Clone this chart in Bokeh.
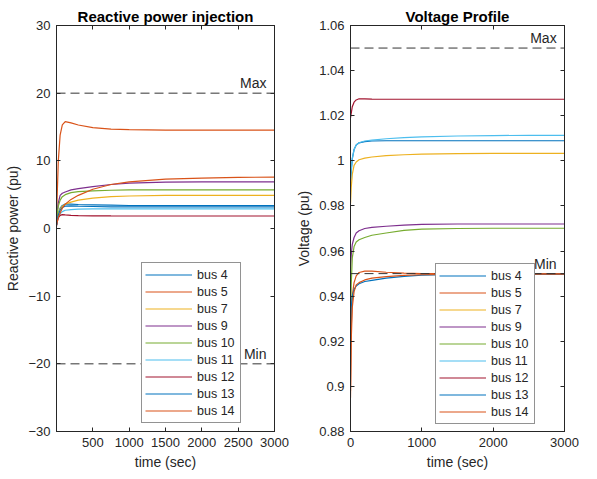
from bokeh.plotting import figure
from bokeh.layouts import row
from bokeh.models import (Range1d, LinearAxis, FixedTicker, Span, Legend, LegendItem,
                          CustomJSTickFormatter)
from bokeh.core.properties import value
from bokeh.embed import file_html
from bokeh.resources import INLINE

# ---------------- data ----------------
t = [0, 10, 25, 50, 80, 120, 200, 300, 500, 750, 1000, 1500, 2000, 2500, 3000]
buses = ["bus 4", "bus 5", "bus 7", "bus 9", "bus 10", "bus 11", "bus 12", "bus 13", "bus 14"]
colors = ["#0072BD", "#D95319", "#EDB120", "#7E2F8E", "#77AC30",
          "#4DBEEE", "#A2142F", "#0072BD", "#D95319"]

q_bus4  = [0.5, 1.4, 2.3, 3.0, 3.4, 3.6, 3.6, 3.55, 3.5, 3.45, 3.4, 3.4, 3.4, 3.4, 3.4]
q_bus5  = [1.5, 5.0, 10.0, 13.8, 15.3, 15.8, 15.6, 15.3, 14.9, 14.7, 14.6, 14.55, 14.55, 14.55, 14.55]
q_bus7  = [0.8, 1.5, 2.2, 2.9, 3.3, 3.6, 3.9, 4.2, 4.5, 4.7, 4.8, 4.9, 4.9, 4.9, 4.9]
q_bus9  = [1.0, 2.5, 3.8, 4.9, 5.2, 5.4, 5.7, 5.9, 6.2, 6.5, 6.7, 6.85, 6.9, 6.9, 6.9]
q_bus10 = [1.0, 2.2, 3.3, 4.2, 4.7, 5.0, 5.3, 5.45, 5.55, 5.65, 5.7, 5.7, 5.7, 5.7, 5.7]
q_bus11 = [0.5, 1.1, 1.7, 2.2, 2.5, 2.7, 2.8, 2.85, 2.9, 2.9, 2.9, 2.9, 2.9, 2.9, 2.9]
q_bus12 = [0.3, 1.0, 1.6, 1.95, 2.05, 2.0, 1.95, 1.9, 1.88, 1.86, 1.85, 1.85, 1.85, 1.85, 1.85]
q_bus13 = [0.5, 1.2, 2.0, 2.7, 3.1, 3.3, 3.35, 3.3, 3.25, 3.2, 3.2, 3.2, 3.2, 3.2, 3.2]
q_bus14 = [0.5, 1.0, 1.6, 2.3, 3.0, 3.6, 4.3, 4.9, 5.8, 6.5, 6.9, 7.3, 7.45, 7.55, 7.6]

v_bus4  = [0.990, 0.995, 1.001, 1.005, 1.007, 1.008, 1.0085, 1.0088, 1.0089, 1.0089, 1.0089, 1.0089, 1.0089, 1.0089, 1.0089]
v_bus5  = [0.898, 0.925, 0.940, 0.946, 0.949, 0.9505, 0.9511, 0.9511, 0.9506, 0.9502, 0.9500, 0.9500, 0.9500, 0.9500, 0.9500]
v_bus7  = [0.981, 0.988, 0.994, 0.998, 0.9995, 1.0005, 1.0012, 1.0017, 1.0023, 1.0027, 1.0030, 1.0032, 1.0033, 1.0033, 1.0033]
v_bus9  = [0.952, 0.958, 0.963, 0.966, 0.968, 0.969, 0.970, 0.9705, 0.971, 0.9715, 0.9718, 0.972, 0.972, 0.972, 0.972]
v_bus10 = [0.925, 0.945, 0.957, 0.962, 0.964, 0.965, 0.966, 0.967, 0.968, 0.9692, 0.9697, 0.9700, 0.9701, 0.9701, 0.9701]
v_bus11 = [0.992, 0.996, 1.001, 1.005, 1.007, 1.008, 1.0088, 1.0092, 1.0098, 1.0103, 1.0106, 1.0110, 1.0112, 1.0113, 1.0113]
v_bus12 = [1.019, 1.021, 1.024, 1.026, 1.027, 1.0275, 1.0275, 1.0274, 1.0273, 1.0273, 1.0273, 1.0273, 1.0273, 1.0273, 1.0273]
v_bus13 = [0.920, 0.935, 0.940, 0.943, 0.9445, 0.9455, 0.9465, 0.947, 0.948, 0.9488, 0.9493, 0.9496, 0.9497, 0.9497, 0.9497]
v_bus14 = [0.895, 0.920, 0.935, 0.942, 0.945, 0.946, 0.9472, 0.948, 0.9487, 0.9492, 0.9495, 0.9497, 0.9498, 0.9498, 0.9498]

q_series = [q_bus4, q_bus5, q_bus7, q_bus9, q_bus10, q_bus11, q_bus12, q_bus13, q_bus14]
v_series = [v_bus4, v_bus5, v_bus7, v_bus9, v_bus10, v_bus11, v_bus12, v_bus13, v_bus14]

q_max, q_min = 20, -20
v_max, v_min = 1.05, 0.95

q_xticks = [500, 1000, 1500, 2000, 2500, 3000]
v_xticks = [0, 1000, 2000, 3000]
q_yticks = [-30, -20, -10, 0, 10, 20, 30]
v_yticks = [0.88, 0.9, 0.92, 0.94, 0.96, 0.98, 1.0, 1.02, 1.04, 1.06]
v_ytick_labels = ["0.88", "0.9", "0.92", "0.94", "0.96", "0.98", "1", "1.02", "1.04", "1.06"]

FONT = "Liberation Sans"
TXT = "#262626"


def style_axis(ax, ticks, show_labels=True):
    ax.ticker = FixedTicker(ticks=ticks)
    ax.axis_line_color = TXT
    ax.major_tick_line_color = TXT
    ax.major_tick_in = 4
    ax.major_tick_out = 0
    ax.minor_tick_line_color = None
    ax.major_label_text_font = FONT
    ax.major_label_text_color = TXT
    ax.major_label_text_font_size = "13px"
    ax.axis_label_text_font = FONT
    ax.axis_label_text_color = TXT
    ax.axis_label_text_font_style = "normal"
    ax.axis_label_text_font_size = "14px"
    if show_labels:
        ax.major_label_standoff = 6
        ax.axis_label_standoff = 4
    else:
        ax.formatter = CustomJSTickFormatter(code="return ''")
        ax.major_label_standoff = 0


def make_panel(title, y0, y1, series, xticks, yticks, ylabel, lo, hi,
               width, left, right, legend_xy, ylabel_overrides=None):
    p = figure(width=width, height=476, output_backend="svg", toolbar_location=None,
               x_range=Range1d(0, 3000), y_range=Range1d(y0, y1),
               min_border_left=left, min_border_right=right,
               min_border_top=25, min_border_bottom=45,
               background_fill_color="white", border_fill_color="white")
    p.title.text = title
    p.title.align = "center"
    p.title.text_font = FONT
    p.title.text_font_size = "15px"
    p.title.text_font_style = "bold"
    p.title.text_color = "black"
    p.title.standoff = 2
    p.xgrid.visible = False
    p.ygrid.visible = False
    p.outline_line_color = TXT

    style_axis(p.xaxis[0], xticks)
    style_axis(p.yaxis[0], yticks)
    p.xaxis[0].axis_label = "time (sec)"
    p.yaxis[0].axis_label = ylabel
    if ylabel_overrides is not None:
        p.yaxis[0].major_label_overrides = ylabel_overrides

    top = LinearAxis()
    style_axis(top, xticks, show_labels=False)
    p.add_layout(top, "above")
    rgt = LinearAxis()
    style_axis(rgt, yticks, show_labels=False)
    p.add_layout(rgt, "right")

    for loc in (hi, lo):
        p.add_layout(Span(location=loc, dimension="width", line_color="#333333",
                          line_width=1, line_dash="9 5"))

    p.text(x=[2890, 2890], y=[hi, lo], text=["Max", "Min"], text_align="right",
           text_baseline="bottom", y_offset=-2, text_font=value(FONT),
           text_font_size="14px", text_color=TXT)

    items = []
    for name, col, ys in zip(buses, colors, series):
        r = p.line(t, ys, line_color=col, line_width=1.2)
        items.append(LegendItem(label=name, renderers=[r]))

    leg = Legend(items=items, location=legend_xy)
    leg.label_text_font = FONT
    leg.label_text_font_size = "12.5px"
    leg.label_text_color = TXT
    leg.glyph_width = 47
    leg.glyph_height = 17
    leg.label_height = 17
    leg.label_width = 40
    leg.label_standoff = 5
    leg.spacing = 0
    leg.padding = 3
    leg.margin = 0
    leg.border_line_color = TXT
    leg.border_line_width = 1
    leg.background_fill_color = "white"
    leg.background_fill_alpha = 1
    p.add_layout(leg)
    return p


p1 = make_panel("Reactive power injection", -30, 30, q_series, q_xticks, q_yticks,
                "Reactive power (pu)", q_min, q_max, width=293, left=56, right=19,
                legend_xy=(85, 8))
v_over = dict(zip(v_yticks, v_ytick_labels))
p2 = make_panel("Voltage Profile", 0.88, 1.06, v_series, v_xticks, v_yticks,
                "Voltage (pu)", v_min, v_max, width=294, left=52, right=23,
                legend_xy=(85, 7), ylabel_overrides=v_over)

layout = row(p1, p2)
open("out.html", "w").write(file_html(layout, INLINE))
